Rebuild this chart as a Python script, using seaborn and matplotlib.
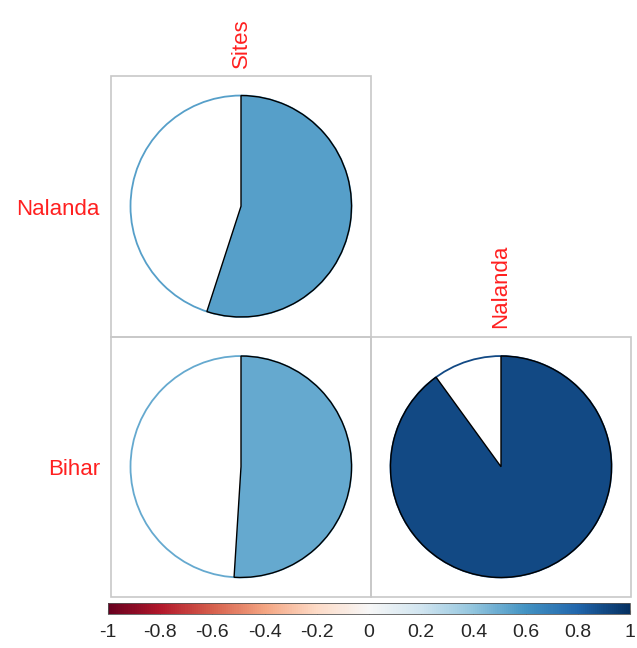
import numpy as np
import pandas as pd
import matplotlib
matplotlib.use("Agg")
import matplotlib.pyplot as plt
from matplotlib.patches import Wedge, Circle, Rectangle
from matplotlib.colors import Normalize
import seaborn as sns

sns.set_style("white")
plt.rcParams["font.family"] = ["Liberation Sans", "DejaVu Sans"]
plt.rcParams["axes.unicode_minus"] = False

# Correlation values (lower triangle)
row_labels = ["Nalanda", "Bihar"]
col_labels = ["Sites", "Nalanda"]
corr_nalanda = [0.55]          # Nalanda vs Sites
corr_bihar = [0.51, 0.90]      # Bihar vs Sites, Bihar vs Nalanda
legend_ticks = [-1, -0.8, -0.6, -0.4, -0.2, 0, 0.2, 0.4, 0.6, 0.8, 1]

cells = pd.DataFrame(
    [(r, c, v) for r, vals in zip(row_labels, [corr_nalanda, corr_bihar])
     for c, v in zip(col_labels, vals)],
    columns=["row", "col", "value"],
)

cmap = sns.color_palette("RdBu", as_cmap=True)
norm = Normalize(-1, 1)
label_color = "#ff2020"

W, H = 637, 648
fig = plt.figure(figsize=(W / 100, H / 100), dpi=100)


def px_axes(x0, y0, x1, y1):
    return fig.add_axes([x0 / W, 1 - y1 / H, (x1 - x0) / W, (y1 - y0) / H])


ax = px_axes(111, 76, 631, 597)
n = len(row_labels)
ax.set_xlim(0, n)
ax.set_ylim(0, n)
ax.axis("off")

radius = 0.425
for _, cell in cells.iterrows():
    i = row_labels.index(cell["row"])
    j = col_labels.index(cell["col"])
    v = cell["value"]
    cx, cy = j + 0.5, n - i - 0.5
    color = cmap(norm(v))
    ax.add_patch(Rectangle((j, n - i - 1), 1, 1, fill=False,
                           edgecolor="#c8c8c8", lw=1.2, clip_on=False))
    ax.add_patch(Circle((cx, cy), radius, facecolor="white",
                        edgecolor=color, lw=1.3))
    sweep = 360 * abs(v)
    if v >= 0:
        t1, t2 = 90 - sweep, 90
    else:
        t1, t2 = 90, 90 + sweep
    ax.add_patch(Wedge((cx, cy), radius, t1, t2, facecolor=color,
                       edgecolor="black", lw=1.0))

# Row labels on the left
for i, lab in enumerate(row_labels):
    ax.annotate(lab, xy=(0, n - i - 0.5), xytext=(-8, -2),
                textcoords="offset points", ha="right", va="center",
                fontsize=16, color=label_color, annotation_clip=False)

# Column labels above the diagonal cells
for j, lab in enumerate(col_labels):
    ax.annotate(lab, xy=(j + 0.5, n - j), xytext=(0, 6),
                textcoords="offset points", ha="center", va="bottom",
                rotation=90, fontsize=16, color=label_color,
                annotation_clip=False)

# Color legend
cax = px_axes(108, 603, 630, 614)
sm = matplotlib.cm.ScalarMappable(norm=norm, cmap=cmap)
cb = fig.colorbar(sm, cax=cax, orientation="horizontal")
cb.set_ticks(legend_ticks)
cb.set_ticklabels([f"{t:g}" for t in legend_ticks])
cb.outline.set_linewidth(0.6)
cb.outline.set_edgecolor("#555555")
cax.tick_params(axis="x", direction="in", length=3, width=0.8,
                color="#888888", labelsize=14, pad=7)

fig.savefig("out.png", dpi=100)
